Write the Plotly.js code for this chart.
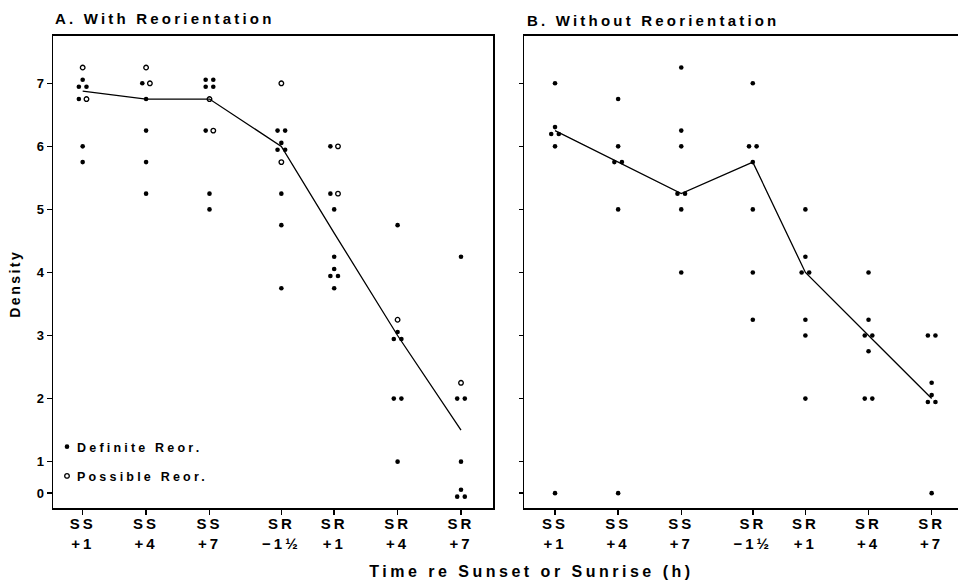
<!DOCTYPE html>
<html><head><meta charset="utf-8">
<script src="https://cdn.plot.ly/plotly-3.0.1.min.js"></script>
<style>html,body{margin:0;padding:0;overflow:hidden;background:#fff}#plot{width:966px;height:581px}</style>
</head><body><div id="plot"></div>
<script>
// ---- data ----
const tickLabels = ['SS<br>+1', 'SS<br>+4', 'SS<br>+7', 'SR<br>\u22121\u00BD', 'SR<br>+1', 'SR<br>+4', 'SR<br>+7'];
// time of each sample (h); the night gap is compressed on the original axis
const timePos = [1, 4, 7, 10.4, 12.9, 15.9, 18.9];
const densityTicks = [0, 1, 2, 3, 4, 5, 6, 7];

// Panel A: With Reorientation
const aDefinite = [
  [7, 7, 7, 6.75, 6, 5.75],
  [7, 6.75, 6.25, 5.75, 5.25],
  [7, 7, 7, 7, 6.25, 5.25, 5],
  [6.25, 6.25, 6, 6, 6, 5.25, 4.75, 3.75],
  [6, 5.25, 5, 4.25, 4, 4, 4, 3.75],
  [4.75, 3, 3, 3, 2, 2, 1],
  [4.25, 2, 2, 1, 0, 0, 0]
];
const aPossible = [
  [7.25, 6.75],
  [7.25, 7],
  [6.75, 6.25],
  [7, 5.75],
  [6, 5.25],
  [3.25],
  [2.25]
];
// Panel B: Without Reorientation
const bDefinite = [
  [7, 6.25, 6.25, 6.25, 6, 0],
  [6.75, 6, 5.75, 5.75, 5, 0],
  [7.25, 6.25, 6, 5.25, 5.25, 5, 4],
  [7, 6, 6, 5.75, 5, 4, 3.25],
  [5, 4.25, 4, 4, 3.25, 3, 2],
  [4, 3.25, 3, 3, 2.75, 2, 2],
  [3, 3, 2.25, 2, 2, 2, 0]
];

// ---- helpers ----
const DX = 0.18, DY = 0.055;
const PATTERNS = {1: [[0, 0]], 2: [[-1, 0], [1, 0]], 3: [[0, 1], [-1, -1], [1, -1]], 4: [[-1, 1], [1, 1], [-1, -1], [1, -1]]};
// the original axis is broken between 0 and 1: zero sits half a unit below 1
function plotY(v) { return v === 0 ? 0.5 : v; }
function spread(defSets, posSets) {
  const out = {def: {x: [], y: []}, pos: {x: [], y: []}};
  defSets.forEach((defVals, i) => {
    const items = defVals.map(v => ({v, k: 'def'})).concat((posSets ? posSets[i] : []).map(v => ({v, k: 'pos'})));
    const groups = new Map();
    items.forEach(it => { if (!groups.has(it.v)) groups.set(it.v, []); groups.get(it.v).push(it); });
    groups.forEach((g, v) => {
      const pat = PATTERNS[g.length] || PATTERNS[1];
      g.forEach((it, j) => {
        const p = pat[j] || [0, 0];
        out[it.k].x.push(timePos[i] + p[0] * DX);
        out[it.k].y.push(plotY(v) + p[1] * DY);
      });
    });
  });
  return out;
}
function median(arr) {
  const s = [...arr].sort((a, b) => a - b), n = s.length;
  return n % 2 ? s[(n - 1) / 2] : (s[n / 2 - 1] + s[n / 2]) / 2;
}
const aMed = aDefinite.map((d, i) => plotY(median(d.concat(aPossible[i]))));
const bMed = bDefinite.map(d => plotY(median(d)));
const A = spread(aDefinite, aPossible);
const B = spread(bDefinite, null);

const FONT = 'Liberation Sans, Arial, Helvetica, sans-serif';
const W = 966, H = 581;
const dotDef = {color: '#000', size: 4.6, symbol: 'circle'};
const dotPos = {color: '#000', size: 4.6, symbol: 'circle-open', line: {color: '#000', width: 1.3}};

const traces = [
  {x: timePos, y: aMed, mode: 'lines', line: {color: '#000', width: 1.3}, showlegend: false, xaxis: 'x', yaxis: 'y', hoverinfo: 'skip'},
  {x: A.def.x, y: A.def.y, mode: 'markers', marker: dotDef, name: 'Definite Reor.', legendgroup: 'd', xaxis: 'x', yaxis: 'y'},
  {x: A.pos.x, y: A.pos.y, mode: 'markers', marker: dotPos, name: 'Possible Reor.', legendgroup: 'p', xaxis: 'x', yaxis: 'y'},
  {x: timePos, y: bMed, mode: 'lines', line: {color: '#000', width: 1.3}, showlegend: false, xaxis: 'x2', yaxis: 'y2', hoverinfo: 'skip'},
  {x: B.def.x, y: B.def.y, mode: 'markers', marker: dotDef, showlegend: false, xaxis: 'x2', yaxis: 'y2'}
];

const yDom = [(H - 508.3) / H, (H - 36) / H];
const yRange = [0.26, 7.75];
const xTickFont = {family: FONT, size: 15, color: '#000', weight: 700};
function xAxis(dom, range, anchor) {
  return {domain: dom, range: range, anchor: anchor, tickmode: 'array', tickvals: timePos, ticktext: tickLabels,
    showline: true, mirror: true, linecolor: '#000', linewidth: 1.8, ticks: 'outside', ticklen: 5, tickwidth: 1.5,
    tickcolor: '#000', showgrid: false, zeroline: false, tickfont: xTickFont, ticklabelstandoff: -4, fixedrange: true};
}
function yAxis(anchor, labels) {
  return {domain: yDom, range: yRange, anchor: anchor, tickmode: 'array', tickvals: densityTicks.map(plotY),
    ticktext: densityTicks.map(String), showticklabels: labels, showline: true, mirror: true, linecolor: '#000',
    linewidth: 1.8, ticks: 'outside', ticklen: 5, tickwidth: 1.5, tickcolor: '#000', showgrid: false, zeroline: false,
    tickfont: {family: FONT, size: 13, color: '#000', weight: 700}, fixedrange: true};
}
function innerTicksX(over, dom, range, anchor) {
  return {overlaying: over, domain: dom, range: range, anchor: anchor, side: 'bottom', tickmode: 'array', tickvals: timePos,
    showticklabels: false, showline: false, ticks: 'inside', ticklen: 4, tickwidth: 1.5, tickcolor: '#000',
    showgrid: false, zeroline: false, fixedrange: true};
}
const xDomA = [53.3 / W, 492.7 / W], xRangeA = [-0.39, 20.4];
const xDomB = [524.3 / W, 963 / W], xRangeB = [-0.46, 20.39];

const layout = {
  width: W, height: H, margin: {l: 0, r: 0, t: 0, b: 0}, paper_bgcolor: '#fff', plot_bgcolor: '#fff',
  font: {family: FONT, color: '#000'},
  xaxis: xAxis(xDomA, xRangeA, 'y'),
  yaxis: yAxis('x', true),
  xaxis2: xAxis(xDomB, xRangeB, 'y2'),
  yaxis2: Object.assign(yAxis('x2', false), {ticks: 'outside', ticklen: 4}),
  xaxis3: innerTicksX('x', xDomA, xRangeA, 'y'),
  xaxis4: innerTicksX('x2', xDomB, xRangeB, 'y2'),
  yaxis3: {overlaying: 'y2', domain: yDom, range: yRange, anchor: 'x2', side: 'left', tickmode: 'array',
    tickvals: densityTicks.map(plotY), showticklabels: false, showline: false, ticks: 'inside', ticklen: 4,
    tickwidth: 1.5, tickcolor: '#000', showgrid: false, zeroline: false, fixedrange: true},
  showlegend: true,
  legend: {x: 47 / W, y: (H - 432) / H, xanchor: 'left', yanchor: 'top', bgcolor: 'rgba(0,0,0,0)', traceorder: 'grouped',
    tracegroupgap: 10, font: {family: FONT, size: 12.5, color: '#000', weight: 700}, itemwidth: 30},
  annotations: [
    {text: 'A. With Reorientation', xref: 'paper', yref: 'paper', x: 53 / W, y: (H - 19) / H, xanchor: 'left', yanchor: 'middle',
      align: 'left', showarrow: false, font: {family: FONT, size: 15, color: '#000', weight: 700}},
    {text: 'B. Without Reorientation', xref: 'paper', yref: 'paper', x: 525 / W, y: (H - 20) / H, xanchor: 'left', yanchor: 'middle',
      align: 'left', showarrow: false, font: {family: FONT, size: 15, color: '#000', weight: 700}},
    {text: 'Time re Sunset or Sunrise (h)', xref: 'paper', yref: 'paper', x: 531 / W, y: (H - 571) / H, xanchor: 'center', yanchor: 'middle',
      showarrow: false, font: {family: FONT, size: 16, color: '#000', weight: 700}},
    {text: 'Density', xref: 'paper', yref: 'paper', x: 15 / W, y: (H - 284) / H, xanchor: 'center', yanchor: 'middle', textangle: -90,
      showarrow: false, font: {family: FONT, size: 14, color: '#000', weight: 700}}
  ]
};

Plotly.newPlot('plot', traces, layout, {staticPlot: true, displayModeBar: false}).then(() => {
  const root = document.getElementById('plot');
  root.querySelectorAll('.xtick text, .x2tick text').forEach(t => t.style.letterSpacing = '3px');
  const ann = root.querySelectorAll('.annotation-text');
  ann.forEach((t, i) => t.style.letterSpacing = (i < 2 ? '3.2px' : (i === 2 ? '3.5px' : '2.5px')));
  root.querySelectorAll('.legend .scrollbox, .legend').forEach(e => e.removeAttribute('clip-path'));
  root.querySelectorAll('.legendtext').forEach(t => { t.style.letterSpacing = '3.2px'; t.setAttribute('x', 30); });
});
</script>
</body></html>
